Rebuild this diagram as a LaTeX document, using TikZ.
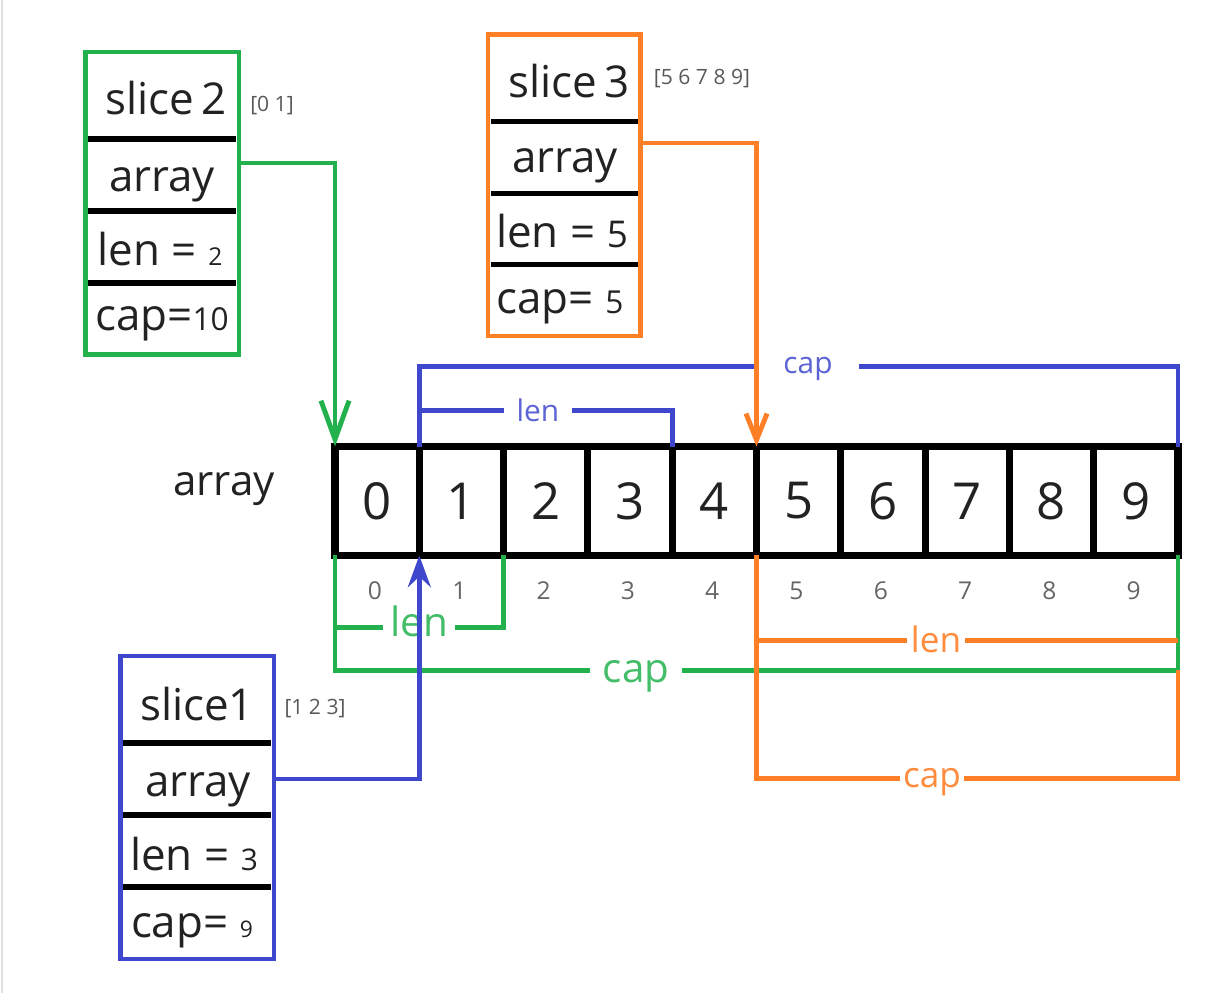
\documentclass[tikz,border=0pt]{standalone}
\usepackage{fontspec}
\setmainfont{Open Sans}
\usetikzlibrary{arrows.meta}
\definecolor{slgreen}{RGB}{34,177,76}
\definecolor{slorange}{RGB}{255,127,39}
\definecolor{slblue}{RGB}{63,72,204}
\definecolor{ink}{RGB}{34,34,34}
\newcommand{\fsz}[1]{\fontsize{#1}{#1}\selectfont}

\begin{document}
\begin{tikzpicture}[x=0.02cm,y=-0.02cm,
  txt/.style={inner sep=0pt,anchor=base,text=ink,font=\fsz{25pt}},
  vals/.style={inner sep=0pt,anchor=base,text=black!65,font=\fsz{12pt}},
  idx/.style={inner sep=0pt,anchor=base,text=black!60,font=\fsz{14pt}},
  cell/.style={draw=black,line width=4pt,minimum width=1.686cm,minimum height=2.18cm,inner sep=0pt,outer sep=0pt,text=ink,font=\fsz{29pt}},
  rule/.style={black,line width=3pt},
  lbl/.style={fill=white,inner ysep=1pt,anchor=base},
  wire/.style={line width=2.8pt}]
\useasboundingbox (0,0) rectangle (1207,993);
\draw[black!12,line width=1.5pt] (2,0) -- (2,993);

% the array
\node[txt,font=\fsz{24pt}] (arrlbl) at (224,495) {array};
\foreach \i in {0,...,9} {
  \node[cell] (c\i) at ({335+84.3*\i+42.15},501) {\raisebox{-1.8pt}{\i}};
  \node[idx] (i\i) at ({335+84.3*\i+40},599) {\i};
}

% slice 2
\draw[rule] (88,139) -- (236,139);
\draw[rule] (88,211) -- (236,211);
\draw[rule] (88,283) -- (236,283);
\draw[slgreen,wire] (85.5,52) rectangle (239,354.5);
\node[txt] (s2name) at (166,115) {slice\,2};
\node[vals] (s2vals) at (272,112) {[0 1]};
\node[txt] (s2arr) at (162,192) {array};
\node[txt] (s2len) at (160,266) {len = {\fsz{14pt}2}};
\node[txt] (s2cap) at (162,330) {cap={\fsz{18pt}10}};
\coordinate (s2out) at (239,163);

% slice 3
\draw[rule] (491,121.5) -- (638,121.5);
\draw[rule] (491,193.5) -- (638,193.5);
\draw[rule] (491,264.5) -- (638,264.5);
\draw[slorange,wire] (488,34.5) rectangle (640.5,336);
\node[txt] (s3name) at (569,98) {slice\,3};
\node[vals] (s3vals) at (702,85) {[5 6 7 8 9]};
\node[txt] (s3arr) at (565,173) {array};
\node[txt] (s3len) at (562,248) {len = {\fsz{21pt}5}};
\node[txt] (s3cap) at (560,314) {cap= {\fsz{18pt}5}};
\coordinate (s3out) at (640.5,143);

% slice 1
\draw[rule] (123,743) -- (271,743);
\draw[rule] (123,815) -- (271,815);
\draw[rule] (123,887) -- (271,887);
\draw[slblue,wire] (120.5,656) rectangle (274,959);
\node[txt] (s1name) at (197,720) {slice1};
\node[vals] (s1vals) at (315,714) {[1 2 3]};
\node[txt] (s1arr) at (198,796) {array};
\node[txt] (s1len) at (194,870) {len = {\fsz{17pt}3}};
\node[txt] (s1cap) at (192,937) {cap= {\fsz{13pt}9}};
\coordinate (s1out) at (274,779);

% len / cap of slice1
\draw[slblue,wire] (c1.north west) -- ++(0,-80) -| (c9.north east);
\node[lbl,text=slblue!85!white,font=\fsz{17pt},inner xsep=15pt] (s1capl) at (808,373) {cap};
\draw[slblue,wire] (c1.north west) -- ++(0,-36) -| (c4.north west);
\node[lbl,text=slblue!85!white,font=\fsz{17pt},inner xsep=7pt] (s1lenl) at (538,421) {len};

% len / cap of slice2
\draw[slgreen,wire] (c0.south west) -- ++(0,72) -| (c2.south west);
\node[lbl,text=slgreen!85!white,font=\fsz{23pt},inner xsep=4pt] (s2lenl) at (419,636) {len};
\draw[slgreen,wire] (c0.south west) -- ++(0,115) -| (c9.south east);
\node[lbl,text=slgreen!85!white,font=\fsz{23pt},inner xsep=7pt] (s2capl) at (636,682) {cap};

% len / cap of slice3
\draw[slorange,wire] (c9.south east) ++(0,85) -| (c5.south west);
\node[lbl,text=slorange!90!white,font=\fsz{20pt},inner xsep=2pt] (s3lenl) at (936,652) {len};
\draw[slorange,wire] (c9.south east) ++(0,115) -- ++(0,108) -| (c5.south west);
\node[lbl,text=slorange!90!white,font=\fsz{20pt},inner xsep=2pt] (s3capl) at (932,787) {cap};

% pointers
\draw[slgreen,wire,-{Straight Barb[length=22pt,width=16pt]}] (s2out) -| (c0.north west);
\draw[slorange,wire,-{Straight Barb[length=15pt,width=12pt]}] (s3out) -| (c5.north west);
\draw[slblue,wire,-{Stealth[length=18pt,width=13pt,inset=6pt]}] (s1out) -| (c1.south west);
\end{tikzpicture}
\end{document}
